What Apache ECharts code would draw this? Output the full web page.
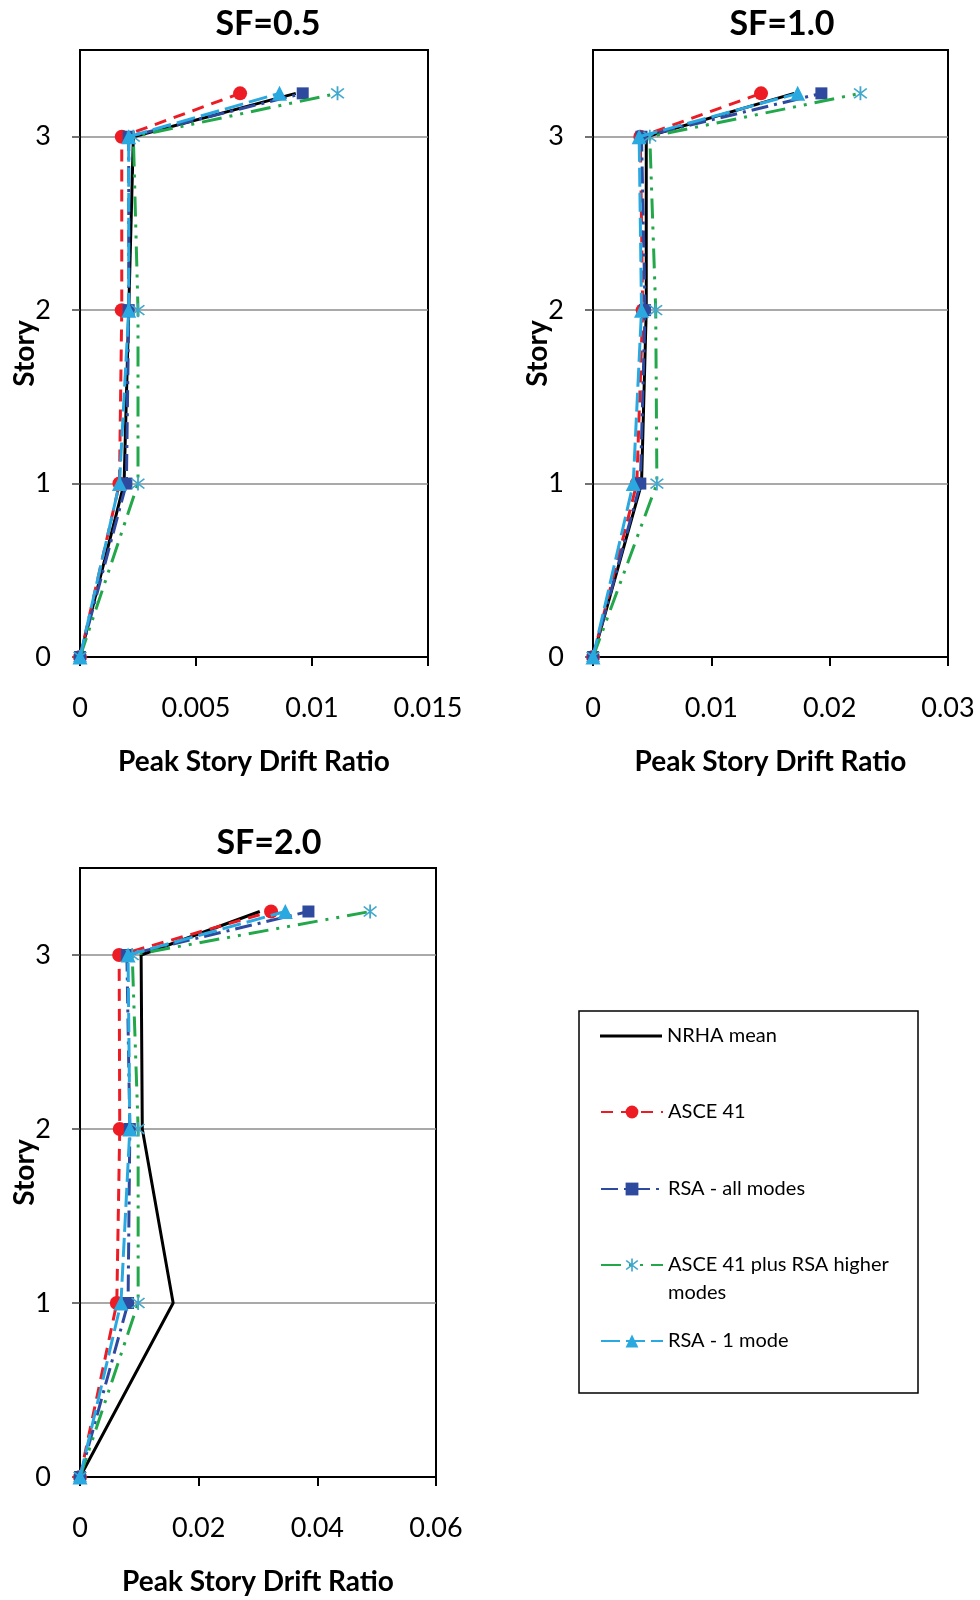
<!DOCTYPE html>
<html>
<head>
<meta charset="utf-8">
<script src="https://cdn.jsdelivr.net/npm/echarts@6/dist/echarts.min.js"></script>
<style>
  html, body { margin: 0; padding: 0; background: #fff; }
  #chart { width: 980px; height: 1600px; }
</style>
</head>
<body>
<div id="chart"></div>
<script>
// Story levels (3.25 = roof point)
const stories = [0, 1, 2, 3, 3.25];
const storyTicks = [0, 1, 2, 3];

const panelTitles = ['SF=0.5', 'SF=1.0', 'SF=2.0'];
const xTicks05 = [0, 0.005, 0.01, 0.015];
const xTicks10 = [0, 0.01, 0.02, 0.03];
const xTicks20 = [0, 0.02, 0.04, 0.06];

const seriesNames = ['NRHA mean', 'ASCE 41', 'RSA - all modes', 'ASCE 41 plus RSA higher modes', 'RSA - 1 mode'];

// Peak story drift ratios, SF = 0.5
const nrha05   = [0, 0.0019, 0.0021, 0.0023, 0.0093];
const asce05   = [0, 0.0017, 0.0018, 0.0018, 0.0069];
const rsaAll05 = [0, 0.0020, 0.0021, 0.0021, 0.0096];
const plus05   = [0, 0.0025, 0.0025, 0.0023, 0.0111];
const rsa1_05  = [0, 0.0017, 0.0021, 0.0021, 0.0086];

// SF = 1.0
const nrha10   = [0, 0.0041, 0.0045, 0.0045, 0.0170];
const asce10   = [0, 0.0037, 0.0042, 0.0040, 0.0142];
const rsaAll10 = [0, 0.0040, 0.0044, 0.0041, 0.0193];
const plus10   = [0, 0.0054, 0.0053, 0.0048, 0.0226];
const rsa1_10  = [0, 0.0034, 0.0041, 0.0039, 0.0173];

// SF = 2.0
const nrha20   = [0, 0.0157, 0.0105, 0.0103, 0.0303];
const asce20   = [0, 0.0062, 0.0067, 0.0066, 0.0322];
const rsaAll20 = [0, 0.0081, 0.0084, 0.0079, 0.0385];
const plus20   = [0, 0.0098, 0.0098, 0.0088, 0.0489];
const rsa1_20  = [0, 0.0069, 0.0084, 0.0081, 0.0346];

const panelData = [
  [nrha05, asce05, rsaAll05, plus05, rsa1_05],
  [nrha10, asce10, rsaAll10, plus10, rsa1_10],
  [nrha20, asce20, rsaAll20, plus20, rsa1_20]
];
const panelTicks = [xTicks05, xTicks10, xTicks20];

const FONT = 'Lato, "Open Sans", sans-serif';

// asterisk marker: vertical bar plus two diagonals
const asterisk = 'path://M9 0L11 0L11 20L9 20Z' +
  'M2.3 3.7L3.7 2.3L17.7 16.3L16.3 17.7Z' +
  'M16.3 2.3L17.7 3.7L3.7 17.7L2.3 16.3Z';

const styles = [
  { color: '#000000', markColor: '#000000', dash: 'solid', symbol: 'none', size: 0 },
  { color: '#ED1C24', markColor: '#ED1C24', dash: [12, 8], symbol: 'circle', size: 14 },
  { color: '#2E4A9E', markColor: '#2E4A9E', dash: [17, 6, 3, 6], symbol: 'rect', size: 12 },
  { color: '#22A84A', markColor: '#40A8CC', dash: [20, 8, 3, 8, 3, 8], symbol: asterisk, size: 14 },
  { color: '#29A9E0', markColor: '#29A9E0', dash: [19, 6], symbol: 'triangle', size: 15 }
];

const grids = [
  { left: 80, top: 50, width: 348, height: 607 },
  { left: 593, top: 50, width: 355, height: 607 },
  { left: 80, top: 868, width: 356, height: 609 }
];

const xAxes = [], yAxes = [], series = [];
panelTicks.forEach((ticks, p) => {
  xAxes.push({
    type: 'value', gridIndex: p,
    min: ticks[0], max: ticks[ticks.length - 1], interval: ticks[1] - ticks[0],
    name: 'Peak Story Drift Ratio', nameLocation: 'middle', nameGap: 91,
    nameMoveOverlap: false,
    nameTextStyle: { fontFamily: FONT, fontSize: 28, fontWeight: 'bold', color: '#000' },
    axisLine: { onZero: false, lineStyle: { color: '#000', width: 2 } },
    axisTick: { show: true, inside: false, length: 9, lineStyle: { color: '#000', width: 2 } },
    axisLabel: { margin: 38, fontFamily: FONT, fontSize: 27, color: '#000' },
    splitLine: { show: false }
  });
  yAxes.push({
    type: 'value', gridIndex: p,
    min: 0, max: 3.5, interval: 1,
    name: 'Story', nameLocation: 'middle', nameGap: 41,
    nameMoveOverlap: false,
    nameTextStyle: { fontFamily: FONT, fontSize: 28, fontWeight: 'bold', color: '#000' },
    axisLine: { onZero: false, lineStyle: { color: '#000', width: 2 } },
    axisTick: { show: true, inside: false, length: 8, customValues: storyTicks, lineStyle: { color: '#444', width: 1.5 } },
    axisLabel: { margin: 29, fontFamily: FONT, fontSize: 27, color: '#000', customValues: storyTicks },
    splitLine: { show: true, lineStyle: { color: '#8C8C8C', width: 1.5 } }
  });
  panelData[p].forEach((vals, s) => {
    const st = styles[s];
    series.push({
      type: 'line', name: seriesNames[s], xAxisIndex: p, yAxisIndex: p,
      data: vals.map((v, i) => [v, stories[i]]),
      symbol: st.symbol, symbolSize: st.size, showSymbol: st.symbol !== 'none',
      clip: false,
      lineStyle: { color: st.color, width: 3, type: st.dash, cap: 'butt' },
      itemStyle: { color: st.markColor },
      z: 2 + s
    });
  });
});

// legend rows (icon centre y); the wrapped entry has a blank lead line so its
// first text line sits level with the icon
const legendRows = [1036, 1112, 1189, 1265, 1341];
const legends = seriesNames.map((name, s) => {
  const twoLine = s === 3;
  const textH = twoLine ? 84 : 24;
  return {
    left: 600, top: legendRows[s] - textH / 2, padding: 0, orient: 'vertical',
    itemWidth: 62, itemHeight: s === 0 ? 3 : 16,
    selectedMode: false,
    data: [s === 0 ? { name, icon: 'rect' } : name],
    formatter: twoLine ? ' \nASCE 41 plus RSA higher\nmodes' : '{name}',
    textStyle: { fontFamily: FONT, fontSize: 20, color: '#000', lineHeight: twoLine ? 28 : 24 }
  };
});

const titleCenters = [[268, 24], [782, 24], [269, 843]];
const graphics = panelTitles.map((t, i) => ({
  type: 'text', x: titleCenters[i][0], y: titleCenters[i][1],
  style: { text: t, align: 'center', verticalAlign: 'middle', fill: '#000',
           font: 'bold 34px ' + FONT }
}));
graphics.push({
  type: 'rect', shape: { x: 579, y: 1011, width: 339, height: 382 },
  style: { fill: 'none', stroke: '#000', lineWidth: 1.5 }
});

const chart = echarts.init(document.getElementById('chart'), null, { renderer: 'canvas' });
chart.setOption({
  animation: false,
  backgroundColor: '#fff',
  grid: grids.map(g => Object.assign({ show: true, borderColor: '#000', borderWidth: 2, backgroundColor: 'transparent' }, g)),
  xAxis: xAxes,
  yAxis: yAxes,
  legend: legends,
  graphic: graphics,
  series: series
});
</script>
</body>
</html>
